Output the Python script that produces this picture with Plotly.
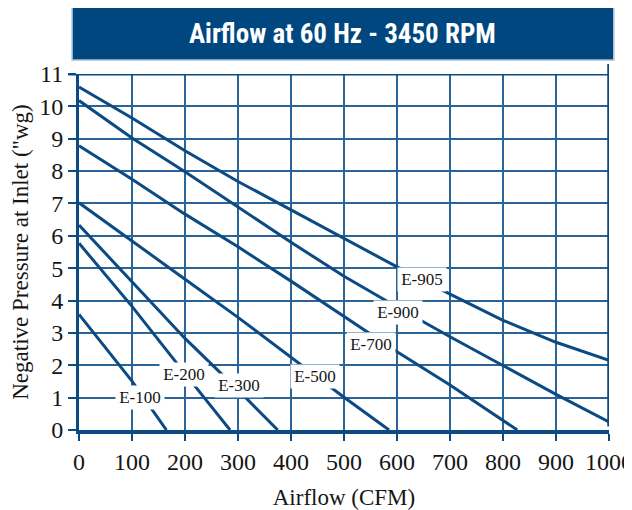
import plotly.graph_objects as go

# ---- data ----
cfm_e905 = [0, 100, 200, 300, 400, 500, 600, 700, 800, 900, 1000]
p_e905 = [10.6, 9.64, 8.63, 7.68, 6.8, 5.92, 5.04, 4.2, 3.39, 2.71, 2.15]

cfm_e900 = [0, 100, 200, 300, 400, 500, 600, 700, 800, 900, 1000]
p_e900 = [10.18, 9.02, 7.98, 6.9, 5.8, 4.75, 3.8, 2.88, 1.98, 1.1, 0.25]

cfm_e700 = [0, 100, 200, 300, 400, 500, 600, 700, 800, 827]
p_e700 = [8.78, 7.75, 6.67, 5.66, 4.6, 3.52, 2.42, 1.39, 0.3, 0]

cfm_e500 = [0, 100, 200, 300, 400, 500, 585]
p_e500 = [7.02, 5.85, 4.66, 3.48, 2.25, 1.01, 0]

cfm_e300 = [0, 100, 200, 300, 375]
p_e300 = [6.33, 4.59, 2.83, 1.24, 0]

cfm_e200 = [0, 100, 200, 285]
p_e200 = [5.77, 3.82, 1.74, 0]

cfm_e100 = [0, 100, 165]
p_e100 = [3.57, 1.51, 0]

series_names = ["E-905", "E-900", "E-700", "E-500", "E-300", "E-200", "E-100"]
label_x = [647, 601, 551, 445, 302, 199, 115]
label_y = [4.65, 3.63, 2.65, 1.66, 1.38, 1.72, 1.01]

x_ticks = [0, 100, 200, 300, 400, 500, 600, 700, 800, 900, 1000]
y_ticks = [0, 1, 2, 3, 4, 5, 6, 7, 8, 9, 10, 11]

title_text = "Airflow at 60 Hz - 3450 RPM"
x_title = "Airflow (CFM)"
y_title = 'Negative Pressure at Inlet ("wg)'

# ---- styling ----
DARK = "#0b4a82"
GRID = "#2d6498"
SERIF = "Liberation Serif, Times New Roman, serif"
TXT = "#151515"

curves = [
    (cfm_e905, p_e905), (cfm_e900, p_e900), (cfm_e700, p_e700),
    (cfm_e500, p_e500), (cfm_e300, p_e300), (cfm_e200, p_e200),
    (cfm_e100, p_e100),
]

fig = go.Figure()
for name, (xs, ys) in zip(series_names, curves):
    fig.add_trace(go.Scatter(
        x=xs, y=ys, mode="lines", name=name,
        line=dict(color=DARK, width=3), showlegend=False,
    ))

for name, lx, ly in zip(series_names, label_x, label_y):
    fig.add_annotation(
        x=lx, y=ly, xref="x", yref="y", text=name, showarrow=False,
        font=dict(family=SERIF, size=17, color=TXT),
        bgcolor="white", borderpad=0, width=48, height=23,
    )

# title banner
fig.add_shape(type="rect", xref="paper", yref="paper",
              x0=-0.013, x1=1.009, y0=1.039, y1=1.188,
              fillcolor="#00467f", line=dict(color="#a9c0d8", width=1.5),
              layer="above")
fig.add_annotation(
    x=0.498, y=1.112, xref="paper", yref="paper", text=title_text,
    showarrow=False, xanchor="center", yanchor="middle",
    font=dict(family="Liberation Sans Narrow, Roboto Condensed, Roboto, sans-serif",
              size=27, color="white", weight="bold"),
)

# right border line extending above the plot
fig.add_shape(type="line", xref="x", yref="paper", x0=1000, x1=1000,
              y0=0.01, y1=1.028, line=dict(color=DARK, width=3.5), layer="above")
# top border line extending left as tick
fig.add_shape(type="line", xref="paper", yref="y", x0=-0.02, x1=1.0,
              y0=11, y1=11, line=dict(color=DARK, width=3), layer="above")

# the page places the figure 8px from the top-left corner, so the figure
# is sized to fit the 632x510 window
fig.update_layout(
    width=624, height=502,
    margin=dict(l=70.5, r=22.5, t=66, b=80.4, autoexpand=False),
    paper_bgcolor="white", plot_bgcolor="white",
    xaxis=dict(
        range=[0, 1000], tickvals=x_ticks, ticktext=[str(v) for v in x_ticks],
        showgrid=True, gridcolor=GRID, gridwidth=1.6, automargin=False,
        ticklabeloverflow="allow",
        showline=True, linecolor=DARK, linewidth=3.5,
        ticks="outside", ticklen=7, tickwidth=2, tickcolor=DARK,
        tickfont=dict(family=SERIF, size=24, color=TXT),
        zeroline=False,
        title=dict(text=x_title, standoff=17,
                   font=dict(family=SERIF, size=23, color=TXT)),
    ),
    yaxis=dict(
        range=[0, 11], tickvals=y_ticks, ticktext=[str(v) for v in y_ticks],
        showgrid=True, gridcolor=GRID, gridwidth=1.6, automargin=False,
        ticklabeloverflow="allow",
        showline=True, linecolor=DARK, linewidth=3,
        ticks="outside", ticklen=8, tickwidth=2, tickcolor=DARK,
        tickfont=dict(family=SERIF, size=24, color=TXT),
        zeroline=False,
        title=dict(text=y_title, standoff=10,
                   font=dict(family=SERIF, size=23, color=TXT)),
    ),
)

fig.write_html("out.html")
